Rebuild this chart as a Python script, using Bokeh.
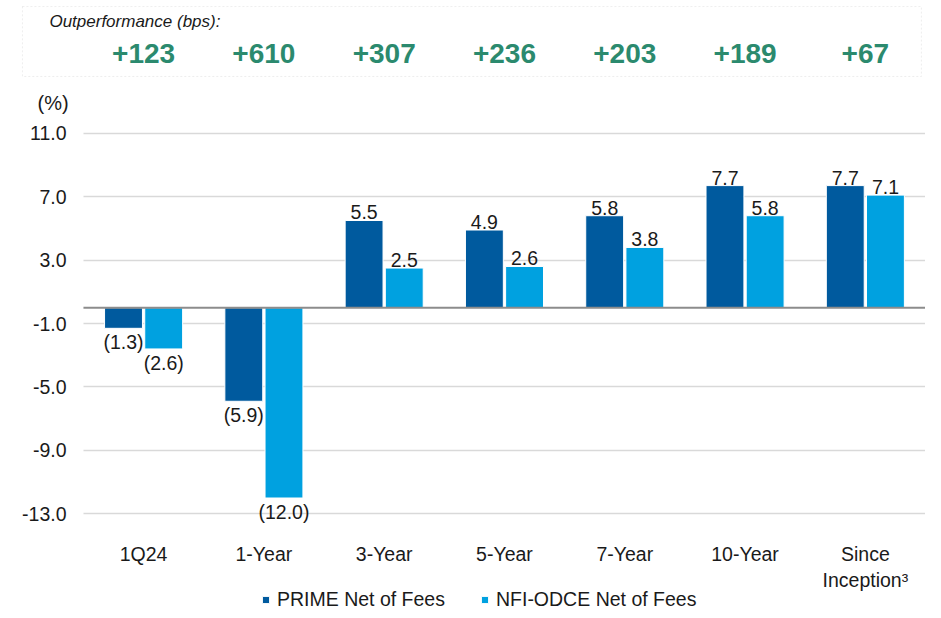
from bokeh.plotting import figure
from bokeh.models import (ColumnDataSource, Range1d, FixedTicker, NumeralTickFormatter,
                          Legend, LegendItem, BoxAnnotation, Grid)
from bokeh.transform import dodge
from bokeh.core.properties import value
from bokeh.embed import file_html
from bokeh.resources import INLINE

# ---------------- data ----------------
categories = ["1Q24", "1-Year", "3-Year", "5-Year", "7-Year", "10-Year", "Since\nInception\u00b3"]
prime = [-1.3, -5.9, 5.5, 4.9, 5.8, 7.7, 7.7]
odce = [-2.6, -12.0, 2.5, 2.6, 3.8, 5.8, 7.1]
outperformance = ["+123", "+610", "+307", "+236", "+203", "+189", "+67"]
y_ticks = [11, 7, 3, -1, -5, -9, -13]
series_names = ["PRIME Net of Fees", "NFI-ODCE Net of Fees"]

DARK = "#005A9E"
LIGHT = "#00A1E0"
GREEN = "#2B8A6E"
TXT = "#1a1a1a"
FONT = value("Liberation Sans")
FS = "19.5px"

n = len(categories)
xpos = [i + 0.5 for i in range(n)]  # category centres on the numeric x scale

p = figure(width=925, height=612, x_range=Range1d(-0.515, 7.0), y_range=Range1d(-19.22, 19.12),
           output_backend="svg", toolbar_location=None,
           min_border_left=21, min_border_right=0, min_border_top=4, min_border_bottom=0)
p.outline_line_color = None
p.xgrid.visible = False
p.ygrid.grid_line_color = "#D9D9D9"
p.ygrid.grid_line_width = 1.5
if "cross_bounds" in Grid.properties():
    p.ygrid.cross_bounds = (0, n)

# ---------------- bars ----------------
src = ColumnDataSource(dict(x=xpos, prime=prime, odce=odce))
r1 = p.vbar(x=dodge("x", -0.167), top="prime", width=0.315, source=src,
            fill_color=DARK, line_color="white", line_width=1)
r2 = p.vbar(x=dodge("x", 0.167), top="odce", width=0.315, source=src,
            fill_color=LIGHT, line_color="white", line_width=1)

p.segment(x0=[0], x1=[n], y0=[0], y1=[0], line_color="#8C8C8C", line_width=2)


def label_source(vals):
    return ColumnDataSource(dict(
        x=xpos,
        y=vals,
        t=[("(%.1f)" % abs(v)) if v < 0 else ("%.1f" % v) for v in vals],
        base=["top" if v < 0 else "bottom" for v in vals],
        off=[3 if v < 0 else -1 for v in vals],
    ))


for vals, dx in ((prime, -0.167), (odce, 0.167)):
    p.text(x=dodge("x", dx), y="y", text="t", source=label_source(vals),
           text_font=FONT, text_font_size=FS, text_color=TXT, text_align="center",
           text_baseline="base", y_offset="off")

# ---------------- outperformance box ----------------
p.add_layout(BoxAnnotation(left=-0.507, right=6.966, bottom=14.58, top=18.99,
                           fill_alpha=0, line_color="#C8C8C8", line_dash="2 2", line_width=1))
p.text(x=[-0.283], y=[18.05], text=["Outperformance (bps):"], text_font=FONT,
       text_font_style="italic", text_font_size="17px", text_color=TXT,
       text_align="left", text_baseline="middle")
top_src = ColumnDataSource(dict(x=xpos, y=[16.06] * n, t=outperformance))
p.text(x="x", y="y", text="t", source=top_src, text_font=FONT, text_font_style="bold",
       text_font_size="28px", text_color=GREEN, text_align="center", text_baseline="middle")

p.text(x=[-0.382], y=[12.93], text=["(%)"], text_font=FONT, text_font_size="20px",
       text_color=TXT, text_align="left", text_baseline="middle")

# ---------------- axes ----------------
p.yaxis.ticker = FixedTicker(ticks=y_ticks)
p.yaxis.formatter = NumeralTickFormatter(format="0.0")
p.yaxis.major_label_standoff = -45
p.xaxis.ticker = FixedTicker(ticks=xpos)
p.xaxis.major_label_overrides = {x: c for x, c in zip(xpos, categories)}
p.xaxis.major_label_standoff = -70
for ax in (p.xaxis, p.yaxis):
    ax.axis_line_color = None
    ax.major_tick_line_color = None
    ax.minor_tick_line_color = None
    ax.major_tick_out = 0
    ax.major_tick_in = 0
    ax.major_label_text_font = "Liberation Sans"
    ax.major_label_text_font_size = FS
    ax.major_label_text_color = TXT

# ---------------- legend ----------------
legend = Legend(items=[LegendItem(label=series_names[0], renderers=[r1]),
                       LegendItem(label=series_names[1], renderers=[r2])],
                orientation="horizontal", location=(240, 1),
                glyph_width=9, glyph_height=9, label_standoff=7, spacing=35,
                padding=0, margin=0, border_line_color=None, background_fill_alpha=0,
                label_text_font="Liberation Sans", label_text_font_size=FS,
                label_text_color=TXT)
p.add_layout(legend, "center")

open("out.html", "w").write(file_html(p, INLINE))
